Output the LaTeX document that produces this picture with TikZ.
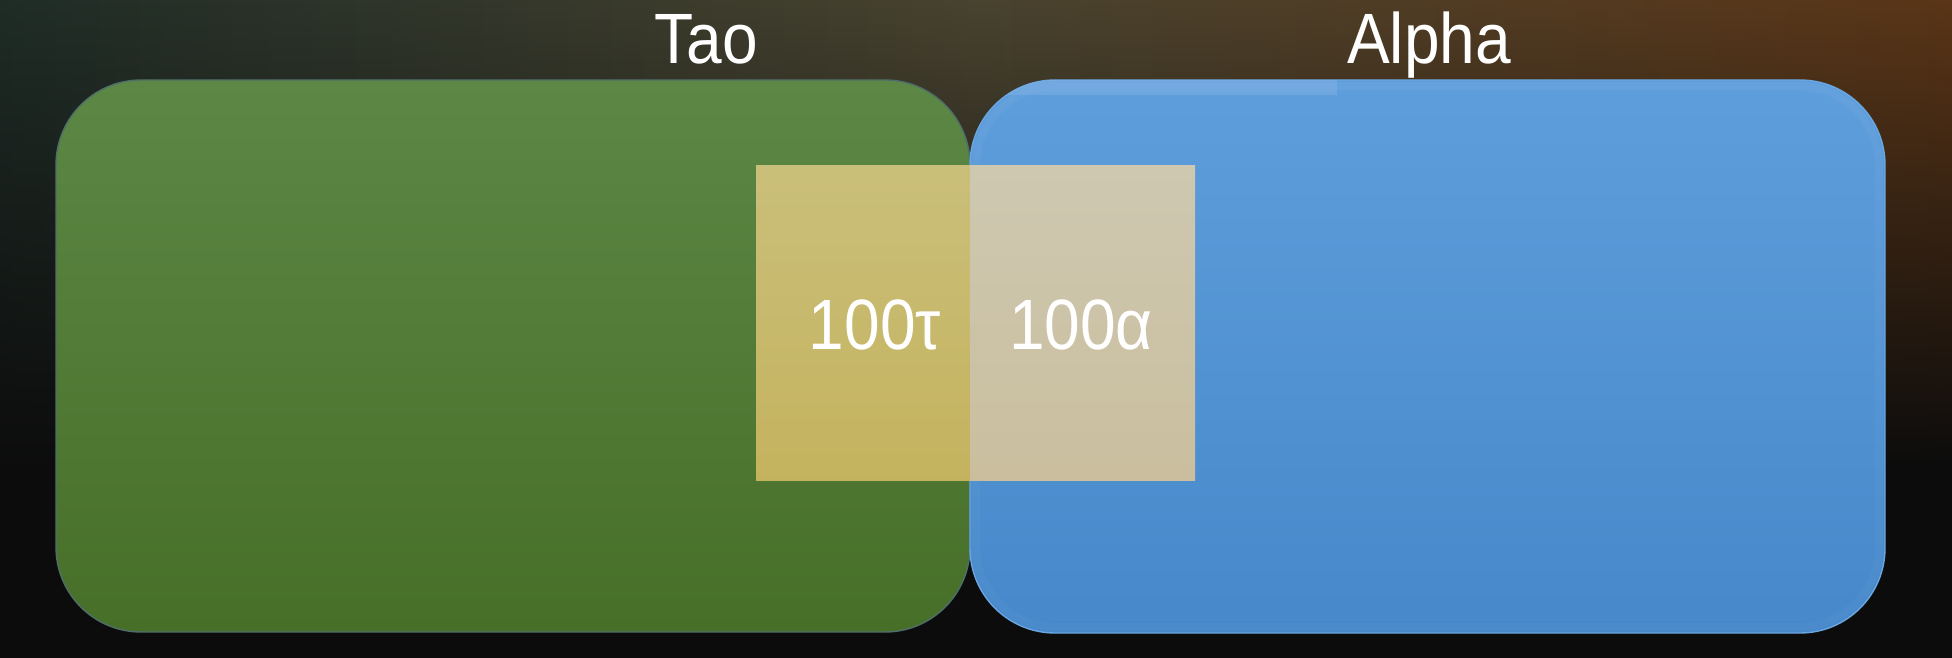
\documentclass[tikz,border=0pt]{standalone}
\usepackage{fontspec}
\setmainfont{Liberation Sans}
\usetikzlibrary{fadings}
\tikzfading[name=vfade, top color=transparent!100, bottom color=transparent!0]
\definecolor{bgL}{HTML}{1F2D27}
\definecolor{bgM}{HTML}{4A4430}
\definecolor{bgR}{HTML}{5C3617}
\definecolor{bgB}{HTML}{0C0C0C}
\definecolor{gTop}{HTML}{5C8745}
\definecolor{gBot}{HTML}{476F28}
\definecolor{gEdge}{HTML}{4F6E6A}
\definecolor{bTop}{HTML}{5F9EDC}
\definecolor{bBot}{HTML}{4688CA}
\definecolor{bEdge}{HTML}{6AA6E0}
\definecolor{yLt}{HTML}{CABF7A}
\definecolor{yLb}{HTML}{C4B35E}
\definecolor{yRt}{HTML}{CEC8B1}
\definecolor{yRb}{HTML}{CABE9E}
\newcommand{\lbltext}[1]{\scalebox{0.97}[1.08]{#1}}
\begin{document}
\begin{tikzpicture}[x=1pt,y=-1pt,
  lbl/.style={text=white, inner sep=0pt, anchor=base, font=\fontsize{66}{78}\selectfont},
  setbox/.style={rounded corners=85pt, line width=1.4pt}]
\useasboundingbox (0,0) rectangle (1952,658);
% background
\shade[left color=bgL, right color=bgR, middle color=bgM] (-10,-10) rectangle (1962,668);
\fill[bgB, path fading=vfade] (-10,-10) rectangle (1962,470);
\fill[bgB] (-10,469) rectangle (1962,668);
% sets
\shadedraw[setbox, top color=gTop, bottom color=gBot, draw=gEdge] (56,80) rectangle (970,632);
\shadedraw[setbox, top color=bTop, bottom color=bBot, draw=bEdge] (970,80) rectangle (1885,633);
\begin{scope}
  \clip[rounded corners=85pt] (970,80) rectangle (1885,633);
  \fill[white, opacity=0.1] (970,80) rectangle (1337,95);
  \draw[rounded corners=80pt, line width=8pt, white, opacity=0.03] (976,86) rectangle (1879,627);
\end{scope}
% intersection
\shade[top color=yLt, bottom color=yLb] (756,166) rectangle (970,480);
\shade[top color=yRt, bottom color=yRb] (970,166) rectangle (1195,480);
% labels
\node[lbl] (tao) at (706,64) {\lbltext{Tao}};
\node[lbl] (alpha) at (1429,64) {\lbltext{Alpha}};
\node[lbl] (t100) at (875,349) {\lbltext{100τ}};
\node[lbl] (a100) at (1081,349) {\lbltext{100α}};
\end{tikzpicture}
\end{document}
